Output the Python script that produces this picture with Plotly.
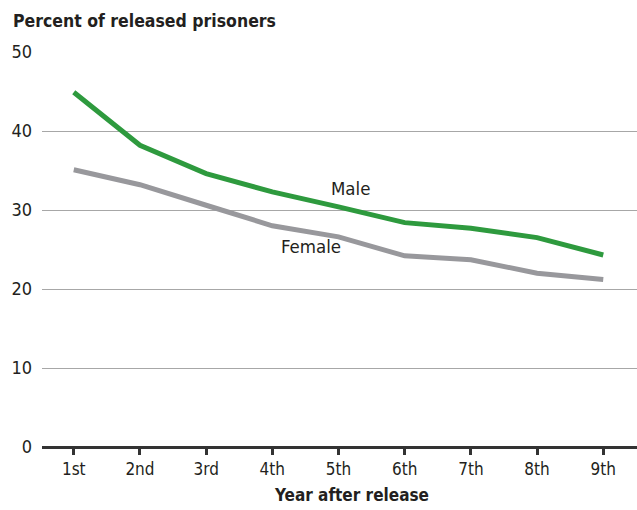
import plotly.graph_objects as go

years = ["1st", "2nd", "3rd", "4th", "5th", "6th", "7th", "8th", "9th"]
male = [44.9, 38.2, 34.6, 32.3, 30.4, 28.4, 27.7, 26.5, 24.3]
female = [35.1, 33.2, 30.6, 28.0, 26.6, 24.2, 23.7, 22.0, 21.2]
y_ticks = [0, 10, 20, 30, 40, 50]

FONT = "DejaVu Sans Condensed, Liberation Sans Narrow, Arial Narrow, sans-serif"
TXT = "#231f20"
xpos = list(range(len(years)))

fig = go.Figure()
fig.add_trace(go.Scatter(x=xpos, y=female, mode="lines",
                         line=dict(color="#98989c", width=5), name="Female",
                         hoverinfo="skip"))
fig.add_trace(go.Scatter(x=xpos, y=male, mode="lines",
                         line=dict(color="#2e9a3e", width=5), name="Male",
                         hoverinfo="skip"))

fig.add_annotation(x=4.18, y=32.7, text="Male", showarrow=False,
                   font=dict(family=FONT, size=18.5, color=TXT))
fig.add_annotation(x=3.585, y=25.4, text="Female", showarrow=False,
                   font=dict(family=FONT, size=18.5, color=TXT))
fig.add_annotation(x=4.2, y=-0.122, yref="paper", text="<b>Year after release</b>",
                   showarrow=False, yanchor="middle",
                   font=dict(family=FONT, size=17, color=TXT))

fig.update_layout(
    width=637, height=510,
    margin=dict(l=42, r=0, t=52, b=63),
    paper_bgcolor="white", plot_bgcolor="white",
    showlegend=False,
    font=dict(family=FONT, color=TXT),
    title=dict(text="<b>Percent of released prisoners</b>", x=13/637, xref="container",
               xanchor="left", y=1 - 21/510, yref="container", yanchor="middle",
               font=dict(family=FONT, size=17.5, color=TXT)),
    xaxis=dict(range=[-0.48, 8.51], tickvals=xpos, ticktext=years,
               showgrid=False, zeroline=False, showline=False,
               ticks="outside", ticklen=7, tickwidth=2.5, tickcolor="#333",
               tickfont=dict(family=FONT, size=17, color=TXT), fixedrange=True),
    yaxis=dict(range=[0, 50], tickvals=y_ticks, showgrid=True,
               gridcolor="#a7a7a7", gridwidth=1, zeroline=True,
               zerolinecolor="#333", zerolinewidth=2.5, showline=False,
               ticks="", ticklabelstandoff=9,
               tickfont=dict(family=FONT, size=18, color=TXT), fixedrange=True),
)

fig.write_html("out.html", config={"displayModeBar": False},
               post_script="document.body.style.margin='0';")
